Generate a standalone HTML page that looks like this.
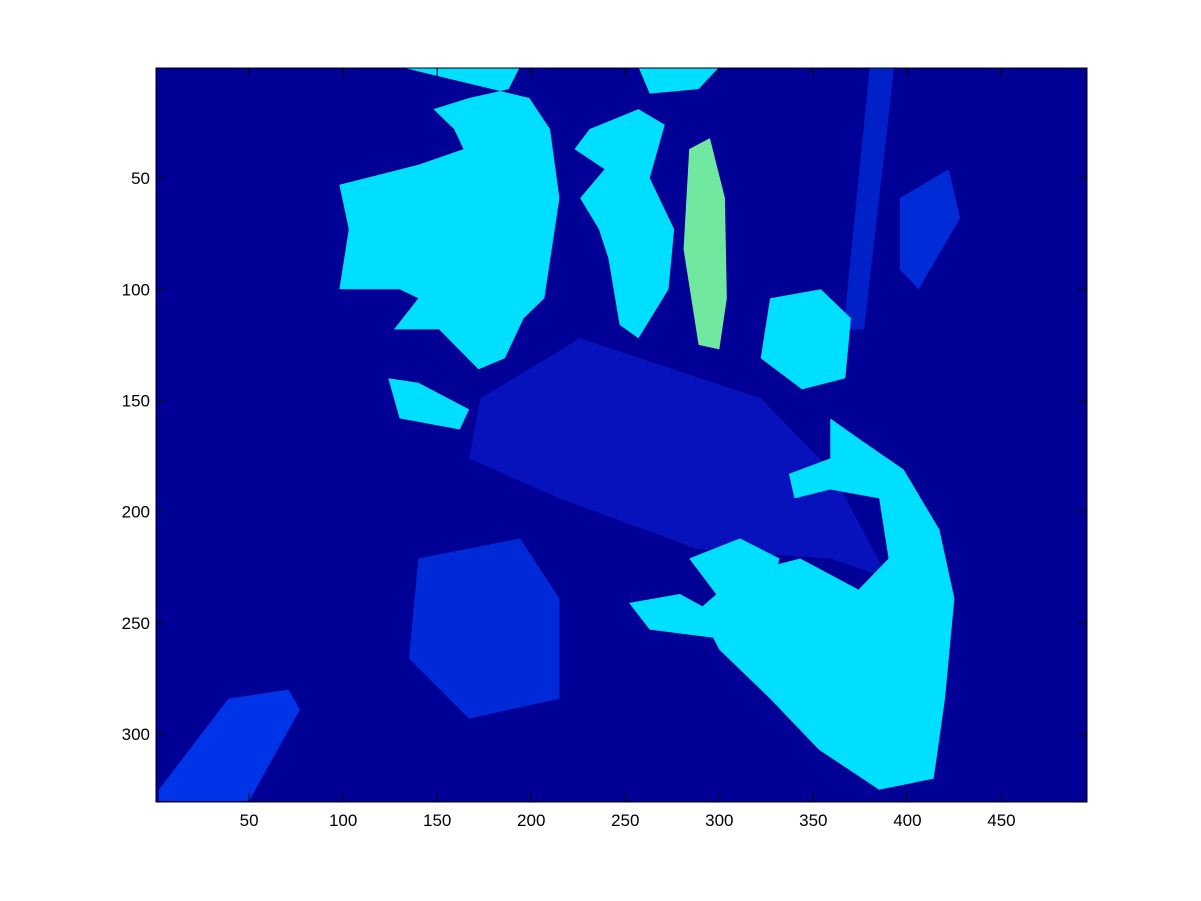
<!DOCTYPE html>
<html><head><meta charset="utf-8"><style>
html,body{margin:0;padding:0;background:#fff;}
svg{display:block;font-family:"Liberation Sans",sans-serif;}
</style></head><body>
<svg id="chart" width="1201" height="901"></svg>
<script>
// image extent (data units: columns x rows)
const xDomain = [0.5, 495.5];
const yDomain = [0.5, 330.5];
const xTicks = [50,100,150,200,250,300,350,400,450];
const yTicks = [50,100,150,200,250,300];
const regionNames = ["mid-band","left-glove","left-blob","right-strip-a","right-strip-b","face","middle-cyan","top-cyan","green-strip","hand-cyan","finger-a","finger-b","knob-cyan","small-cyan"];
const regionColors = ["#0812bc","#0034e8","#002ad8","#002cd8","#0020c8","#00dfff","#00dfff","#00dfff","#70e8a0","#00dfff","#00dfff","#00dfff","#00dfff","#00dfff"];
const regionShapes = [
 [[173,149],[226,122],[322,149],[359,181],[390,230],[359,221],[289,217],[215,194],[167,176]],
 [[2,325],[39,284],[71,280],[77,289],[50,330],[2,330]],
 [[140,221],[194,212],[215,239],[215,284],[167,293],[135,266]],
 [[396,59],[422,46],[428,68],[406,100],[396,91]],
 [[380,0],[393,0],[377,118],[366,118]],
 [[130,0],[194,0],[188,10],[167,14],[148,19],[159,28],[164,37],[140,44],[98,53],[103,73],[98,100],[130,100],[140,104],[127,118],[151,118],[172,136],[186,131],[196,113],[207,104],[215,59],[210,28],[199,14]],
 [[231,28],[257,19],[271,26],[263,50],[276,73],[273,100],[257,122],[247,116],[241,86],[236,73],[226,59],[239,46],[223,37]],
 [[257,0],[300,0],[289,10],[263,12]],
 [[284,37],[295,32],[303,59],[304,104],[300,127],[289,125],[281,82]],
 [[359,158],[374,167],[398,181],[417,208],[425,239],[420,284],[414,320],[385,325],[353,307],[327,284],[300,262],[289,244],[311,228],[343,221],[374,235],[390,221],[385,194],[359,190],[340,194],[337,183],[359,176]],
 [[284,221],[311,212],[332,221],[327,239],[300,239]],
 [[252,241],[279,237],[303,248],[300,257],[263,253]],
 [[327,104],[354,100],[370,113],[367,140],[344,145],[322,131]],
 [[124,140],[140,142],[167,154],[162,163],[130,158]]
];
const L=156,R=1087,T=68,B=802;
const sx=v=>L+(v-xDomain[0])/(xDomain[1]-xDomain[0])*(R-L);
const sy=v=>T+(v-yDomain[0])/(yDomain[1]-yDomain[0])*(B-T);
const NS="http://www.w3.org/2000/svg";
const svg=document.getElementById('chart');
function mk(t,a){const e=document.createElementNS(NS,t);for(const k in a)e.setAttribute(k,a[k]);svg.appendChild(e);return e;}
const defs=mk('clipPath',{id:'clip'});
const cr=document.createElementNS(NS,'rect');cr.setAttribute('x',L);cr.setAttribute('y',T);cr.setAttribute('width',R-L);cr.setAttribute('height',B-T);defs.appendChild(cr);
const bg=mk('rect',{x:L,y:T,width:R-L,height:B-T,fill:'#000096'});


const g=mk('g',{'clip-path':'url(#clip)'});
regionShapes.forEach((pts,i)=>{
 const p=document.createElementNS(NS,'polygon');
 p.setAttribute('points',pts.map(q=>sx(q[0])+','+sy(q[1])).join(' '));
 p.setAttribute('fill',regionColors[i]);
 
 
 g.appendChild(p);
});
const box=mk('rect',{x:L,y:T,width:R-L,height:B-T,fill:'none',stroke:'#000','stroke-width':1});


xTicks.forEach(v=>{
 const x=sx(v);
 mk('line',{x1:x,x2:x,y1:B,y2:B-9,stroke:'#000'});
 mk('line',{x1:x,x2:x,y1:T,y2:T+9,stroke:'#000'});
 const t=mk('text',{x:x,y:B+24,'font-size':17,'text-anchor':'middle',fill:'#000'});
 t.textContent=v;
 
 
});
yTicks.forEach(v=>{
 const y=sy(v);
 mk('line',{x1:L,x2:L+9,y1:y,y2:y,stroke:'#000'});
 mk('line',{x1:R,x2:R-9,y1:y,y2:y,stroke:'#000'});
 const t=mk('text',{x:L-6,y:y+6,'font-size':17,'text-anchor':'end',fill:'#000'});
 t.textContent=v;
 
 
});
</script>
</body></html>
